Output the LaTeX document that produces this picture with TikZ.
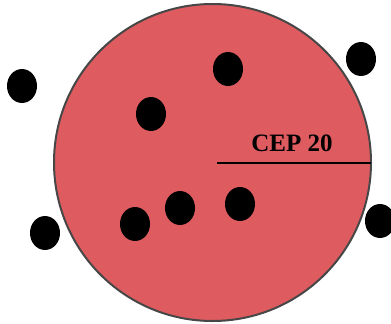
\documentclass[tikz,border=0pt]{standalone}
\usepackage{fontspec}
\setmainfont{Liberation Serif}
\usetikzlibrary{shapes.geometric}
\definecolor{cepred}{HTML}{DE5B5F}
\definecolor{rim}{HTML}{474747}
\begin{document}
\begin{tikzpicture}[x=1pt,y=-1pt,
  hit/.style={fill=black,draw=none,ellipse,minimum width=30pt,minimum height=34pt,inner sep=0pt},
  ring/.style={circle,fill=cepred,draw=rim,line width=2pt,minimum size=317pt,inner sep=0pt}]
\useasboundingbox (0,0) rectangle (391,324);
% target circle with its radius marker
\node[ring] (c) at (212.5,162.5) {};
\coordinate (r0) at (217,163);
\coordinate (r1) at (371,163);
\draw[line width=2.6pt] (r0) -- (r1);
\node[font=\bfseries\fontsize{25}{27}\selectfont,inner sep=0pt] (lbl) at (292,143) {CEP 20};
% impact points
\foreach \n/\x/\y in {a/22/86, b/228/69, c2/151/114, d/361/59, e/45/233, f/135/224, g/180/208, h/240/204, i/380/221}
  \node[hit] (\n) at (\x,\y) {};
\end{tikzpicture}
\end{document}
